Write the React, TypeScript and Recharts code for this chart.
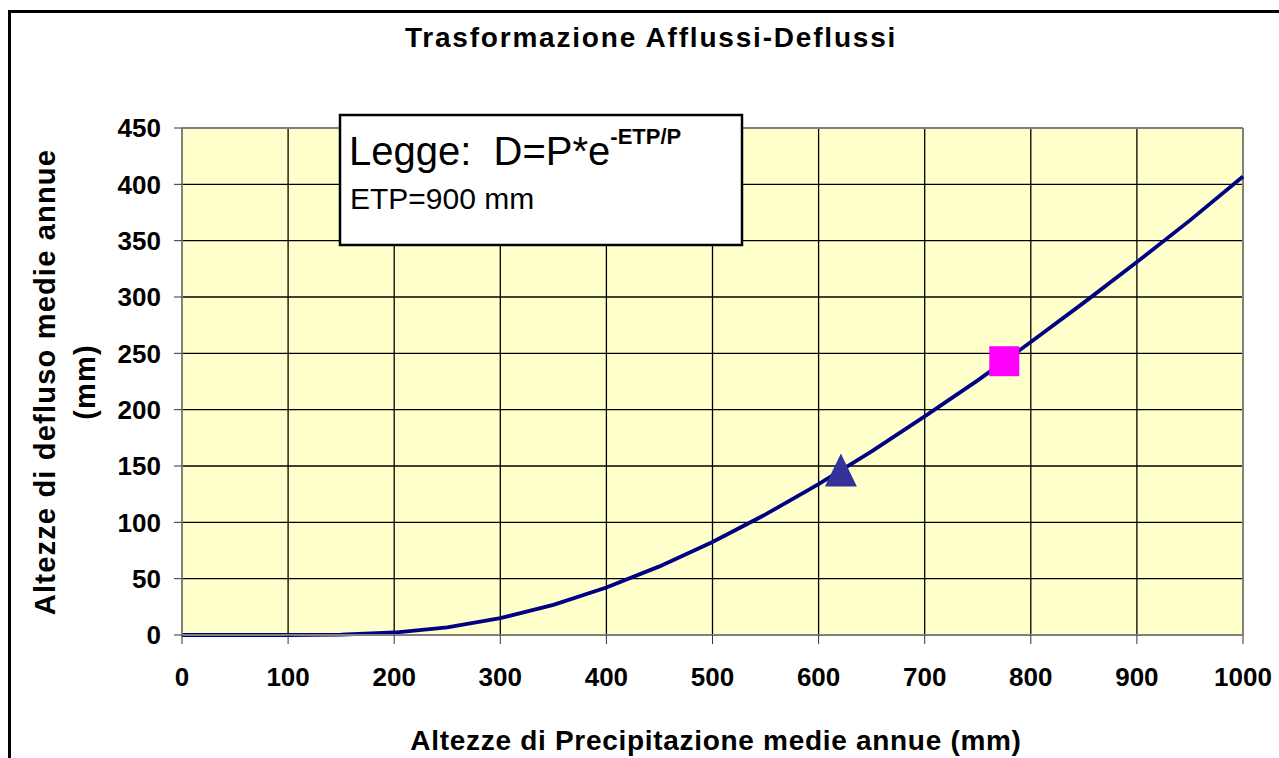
import { ComposedChart, Line, Scatter, XAxis, YAxis, CartesianGrid, ReferenceLine } from 'recharts'

// Altezze di precipitazione (mm) e deflusso
const precipitazioni = [0, 50, 100, 150, 200, 250, 300, 350, 400, 450, 500, 550, 600, 650, 700, 750, 800, 850, 900, 950, 1000]
const deflussi = [0, 0, 0.01, 0.4, 2.2, 6.8, 14.9, 26.7, 42.2, 60.9, 82.6, 107, 134, 163, 194, 226, 260, 295, 331, 368, 407]

const xTicks = [0, 100, 200, 300, 400, 500, 600, 700, 800, 900, 1000]
const yTicks = [0, 50, 100, 150, 200, 250, 300, 350, 400, 450]

const puntoTriangolo = [{ p: 621, d: 146 }]
const puntoQuadrato = [{ p: 775, d: 243 }]

const FONT = 'Arial, "Liberation Sans", sans-serif'

const curva = precipitazioni.map((p, i) => ({ p, d: deflussi[i] }))

const Triangolo = (props: any) => {
  const { cx, cy } = props
  return <polygon points={`${cx},${cy - 17} ${cx - 16},${cy + 16} ${cx + 16},${cy + 16}`} fill="#333399" />
}

const Quadrato = (props: any) => {
  const { cx, cy } = props
  return <rect x={cx - 15} y={cy - 15} width={30} height={30} fill="#FF00FF" />
}

export default function App() {
  const tickStyle = { fill: '#000', fontSize: 26, fontWeight: 700, fontFamily: FONT }
  return (
    <div style={{ position: 'absolute', left: 0, top: 0, width: 1279, height: 758, overflow: 'hidden', background: '#fff' }}>
      <ComposedChart
        width={1279}
        height={758}
        data={curva}
        margin={{ top: 128, right: 36, bottom: 83, left: 82 }}
      >
        <CartesianGrid stroke="#000" strokeWidth={1.3} fill="#FFFFCC" fillOpacity={1} />
        <XAxis
          dataKey="p"
          type="number"
          domain={[0, 1000]}
          ticks={xTicks}
          interval={0}
          height={40}
          tick={tickStyle}
          tickSize={9}
          tickMargin={24}
          axisLine={{ stroke: '#808080', strokeWidth: 2 }}
          tickLine={{ stroke: '#333' }}
        />
        <YAxis
          type="number"
          domain={[0, 450]}
          ticks={yTicks}
          interval={0}
          width={100}
          tick={tickStyle}
          tickSize={8}
          tickMargin={13}
          axisLine={{ stroke: '#808080', strokeWidth: 2 }}
          tickLine={{ stroke: '#333' }}
        />
        <ReferenceLine y={450} stroke="#808080" strokeWidth={2} />
        <ReferenceLine x={1000} stroke="#808080" strokeWidth={2} />
        <Line
          dataKey="d"
          type="linear"
          stroke="#000080"
          strokeWidth={3.8}
          dot={false}
          activeDot={false}
          isAnimationActive={false}
        />
        <Scatter data={puntoTriangolo} dataKey="d" shape={Triangolo} isAnimationActive={false} />
        <Scatter data={puntoQuadrato} dataKey="d" shape={Quadrato} isAnimationActive={false} />
      </ComposedChart>

      <svg width={1279} height={758} style={{ position: 'absolute', left: 0, top: 0, pointerEvents: 'none' }}>
        <rect x={9.5} y={11.5} width={1400} height={900} fill="none" stroke="#000" strokeWidth={3} />
        <text x={651} y={47} textAnchor="middle" fontFamily={FONT} fontWeight={700} fontSize={28} letterSpacing={1.8}>
          Trasformazione Afflussi-Deflussi
        </text>
        <text x={716} y={750} textAnchor="middle" fontFamily={FONT} fontWeight={700} fontSize={28} letterSpacing={0.7}>
          Altezze di Precipitazione medie annue (mm)
        </text>
        <text transform="translate(55,382) rotate(-90)" textAnchor="middle" fontFamily={FONT} fontWeight={700} fontSize={29} letterSpacing={1.2}>
          Altezze di defluso medie annue
        </text>
        <text transform="translate(95,382) rotate(-90)" textAnchor="middle" fontFamily={FONT} fontWeight={700} fontSize={29} letterSpacing={1.2}>
          (mm)
        </text>
        <rect x={340} y={115} width={402} height={130} fill="#fff" stroke="#000" strokeWidth={2.5} />
        <text x={349} y={165} fontFamily={FONT} fontSize={40}>
          {'Legge:\u00a0\u00a0D=P*e'}
          <tspan fontSize={22} fontWeight={700} dy={-21}>-ETP/P</tspan>
        </text>
        <text x={350} y={209} fontFamily={FONT} fontSize={30}>
          ETP=900 mm
        </text>
      </svg>
    </div>
  )
}
